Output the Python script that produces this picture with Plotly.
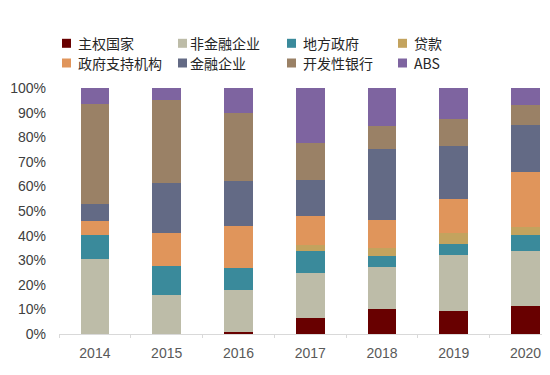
import plotly.graph_objects as go

years = ["2014", "2015", "2016", "2017", "2018", "2019", "2020"]
series_names = ["主权国家", "非金融企业", "地方政府", "贷款", "政府支持机构", "金融企业", "开发性银行", "ABS"]
sovereign = [0.0, 0.0, 0.8, 6.5, 10.1, 9.3, 11.4]
nonfin = [30.3, 15.8, 17.0, 18.4, 17.1, 22.9, 22.5]
local_gov = [10.1, 11.8, 9.2, 8.7, 4.4, 4.4, 6.2]
loans = [0.0, 0.0, 0.0, 2.5, 3.4, 4.6, 3.4]
agency = [5.4, 13.6, 17.1, 11.9, 11.2, 13.5, 22.4]
financial = [6.9, 20.0, 18.1, 14.8, 28.9, 21.7, 19.2]
dev_bank = [40.9, 33.8, 27.5, 14.8, 9.5, 11.0, 7.9]
abs_ = [6.4, 5.0, 10.3, 22.4, 15.4, 12.6, 7.0]
y_ticks = [0, 10, 20, 30, 40, 50, 60, 70, 80, 90, 100]

values = [sovereign, nonfin, local_gov, loans, agency, financial, dev_bank, abs_]
colors = ["#680000", "#BDBCA8", "#3A8A9B", "#C3A35E", "#E0955B", "#636A85", "#9A8166", "#7E64A0"]

OFF = 8  # page body margin offset
W, H = 550 - OFF, 375 - OFF
L, R, T, B = 59 - OFF, 0, 88 - OFF, 41
PW, PH = W - L - R, H - T - B

def px_x(p):
    return (p - OFF - L) / PW

def px_y(p):
    return (H - B - (p - OFF)) / PH

x = list(range(len(years)))
fig = go.Figure()
for name, vals, c in zip(series_names, values, colors):
    fig.add_trace(go.Bar(x=x, y=vals, name=name, marker=dict(color=c, line=dict(width=0)),
                         width=0.4, showlegend=False))

# manual legend (2 rows x 4 columns)
sw_left = [62, 178, 287, 398]
txt_left = [77, 189, 302, 413]
row_y = [43.3, 63]
shapes, annos = [], []
for i, (name, c) in enumerate(zip(series_names, colors)):
    r, col = divmod(i, 4)
    cy = row_y[r]
    shapes.append(dict(type="rect", xref="paper", yref="paper",
                       x0=px_x(sw_left[col]), x1=px_x(sw_left[col] + 9),
                       y0=px_y(cy + 4.5), y1=px_y(cy - 4.5),
                       fillcolor=c, line=dict(width=0), layer="above"))
    annos.append(dict(xref="paper", yref="paper", x=px_x(txt_left[col] - 1), y=px_y(cy),
                      xanchor="left", yanchor="middle", showarrow=False, text=name,
                      font=dict(family="Noto Sans CJK SC, Liberation Sans, sans-serif",
                                size=14, color="#262626")))

fig.update_layout(
    barmode="stack",
    width=W, height=H,
    margin=dict(l=L, r=R, t=T, b=B, autoexpand=False),
    paper_bgcolor="white", plot_bgcolor="white",
    font=dict(family="Liberation Sans, Noto Sans CJK SC, sans-serif", size=14, color="#404040"),
    showlegend=False,
    shapes=shapes, annotations=annos,
    xaxis=dict(range=[-0.5, 6.34], tickvals=x, ticktext=years, ticks="", showgrid=False,
               showline=True, linecolor="#D9D9D9", linewidth=1, zeroline=False,
               tickfont=dict(color="#595959", size=14), ticklabelstandoff=6,
               minor=dict(tickvals=[i - 0.5 for i in range(8)], ticks="outside", ticklen=3,
                          tickcolor="#D9D9D9", showgrid=False)),
    yaxis=dict(range=[0, 100], tickvals=y_ticks, ticktext=[f"{v}%" for v in y_ticks],
               showgrid=False, zeroline=False, showline=False, ticks="",
               tickfont=dict(color="#404040", size=14), ticklabelstandoff=12),
)
fig.write_html("out.html")
